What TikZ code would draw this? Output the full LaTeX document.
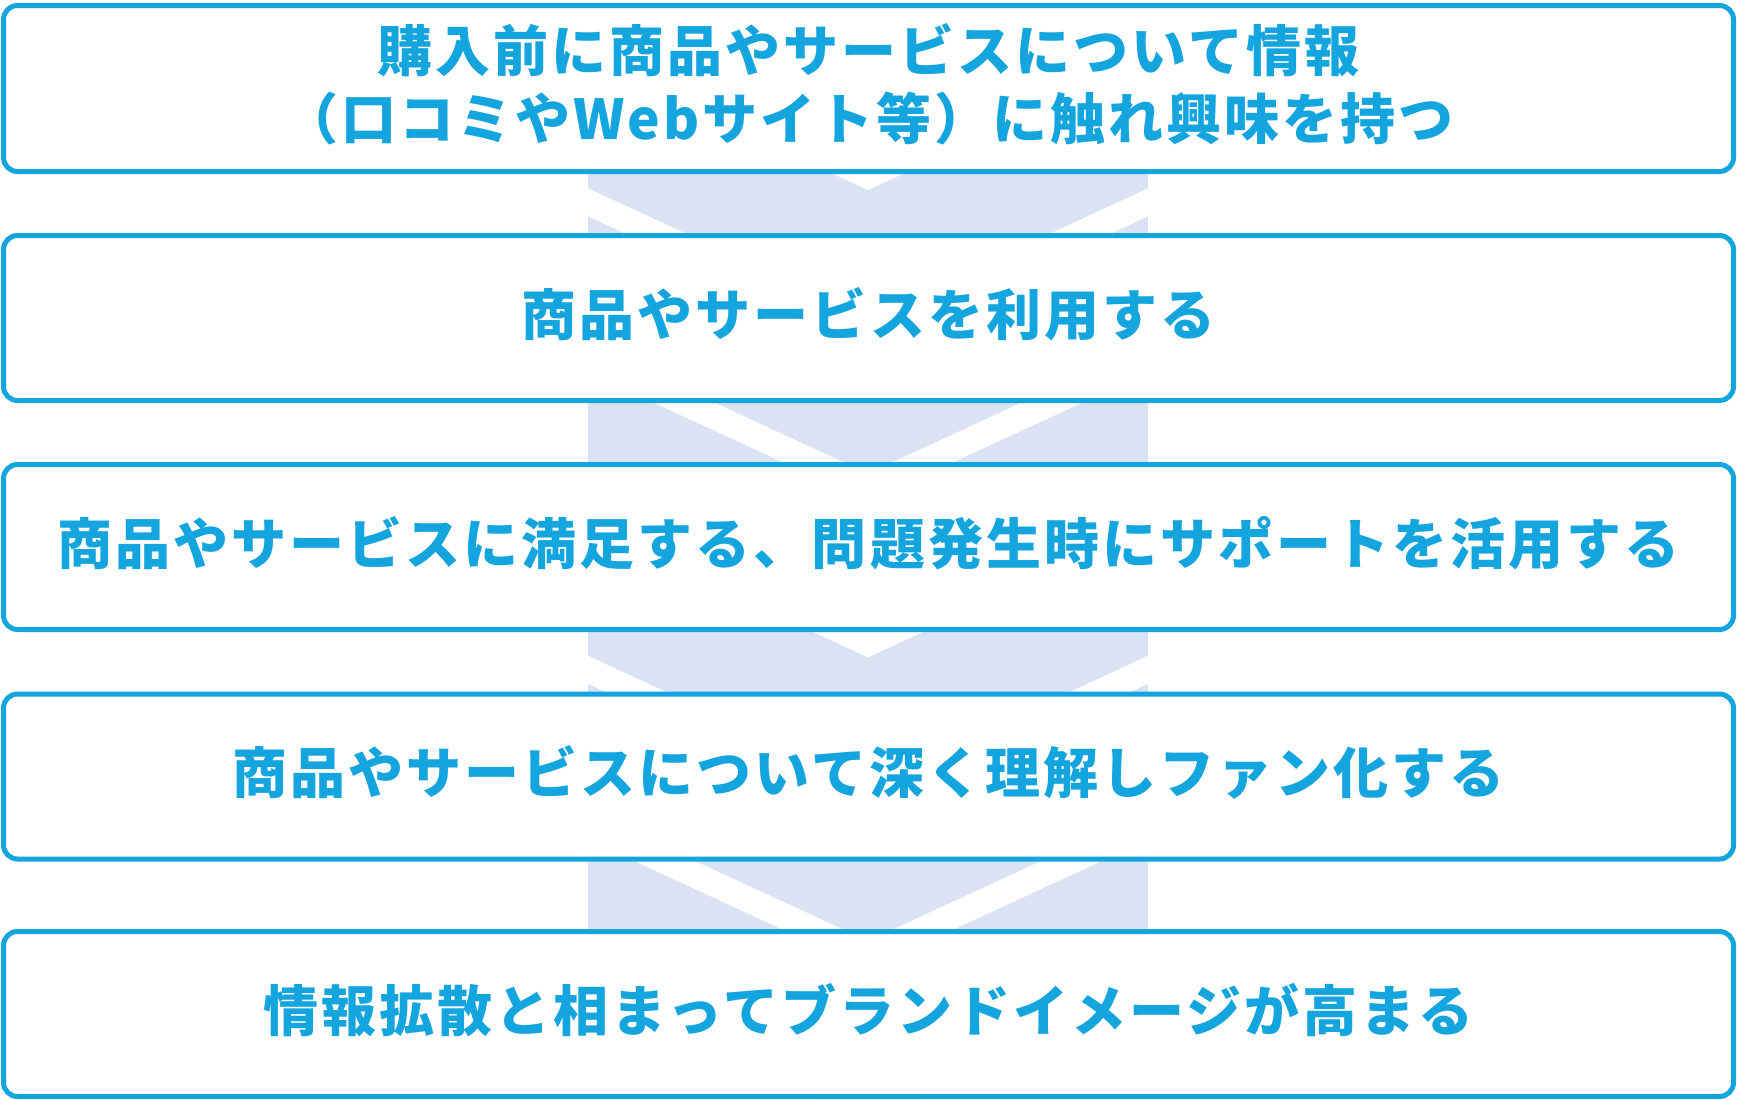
\documentclass[tikz,border=0pt]{standalone}
\usepackage{fontspec}
\setmainfont{Noto Sans CJK JP}[LetterSpace=5.5]
\definecolor{stepblue}{RGB}{20,165,222}
\definecolor{bandblue}{HTML}{DAE3F3}
\begin{document}
\begin{tikzpicture}[x=1pt,y=-1pt,
  stepbox/.style={draw=stepblue,line width=5pt,rounded corners=14pt,fill=white,
    minimum width=1730pt,minimum height=165pt,inner sep=0pt,text=stepblue,
    font=\fontsize{55}{68}\selectfont\bfseries,align=center,text depth=14pt}]
\useasboundingbox (0,0) rectangle (1737,1100);
\fill[bandblue] (588,5) rectangle (1148,1095);
\foreach \u in {6.2,162,317.8,473.6,629.4,785.2,941,1096.8}
  \fill[white] (588,\u-129.4) -- (868,\u) -- (1148,\u-129.4) -- (1148,\u-101.4)
    -- (868,\u+28) -- (588,\u-101.4) -- cycle;
\node[stepbox,minimum height=166pt] (s1) at (868.5,88.5)
  {購入前に商品やサービスについて情報\\（口コミやWebサイト等）に触れ興味を持つ};
\node[stepbox] (s2) at (868.5,318) {商品やサービスを利用する};
\node[stepbox] (s3) at (868.5,547) {商品やサービスに満足する、問題発生時にサポートを活用する};
\node[stepbox] (s4) at (868.5,776.5) {商品やサービスについて深く理解しファン化する};
\node[stepbox] (s5) at (868.5,1014) {情報拡散と相まってブランドイメージが高まる};
\end{tikzpicture}
\end{document}
